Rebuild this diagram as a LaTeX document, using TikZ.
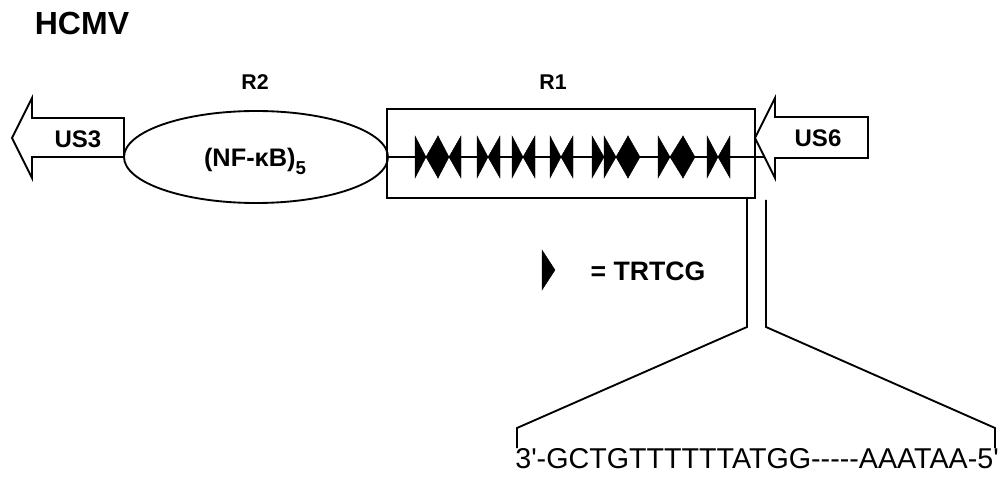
\documentclass[tikz,border=0pt]{standalone}
\usepackage{fontspec}
\setmainfont{Liberation Sans}
\usetikzlibrary{shapes.geometric}
\begin{document}
\begin{tikzpicture}[x=0.75pt,y=-0.75pt,line join=miter,
  ln/.style={line width=1.4pt},
  lbl/.style={font=\bfseries\fontsize{16}{18}\selectfont,inner sep=0pt,anchor=base},
  genetxt/.style={font=\bfseries\fontsize{18}{20}\selectfont,inner sep=0pt,anchor=base},
  geneshape/.style={draw,line width=1.4pt,fill=white},
  tri/.style={fill=black,draw=black,line width=0.3pt}]
\useasboundingbox (0,0) rectangle (1002,488);
% title
\node[font=\bfseries\fontsize{24}{28}\selectfont,inner sep=0pt,anchor=base] (hcmv) at (82,35) {HCMV};
% R2 ellipse and R1 box
\node[ellipse,draw,ln,minimum width=198pt,minimum height=69pt,inner sep=0pt] (r2) at (256,157) {};
\node[draw,ln,minimum width=276pt,minimum height=66.75pt,inner sep=0pt] (r1) at (571,153.5) {};
\node[lbl] (r2lab) at (255,90) {R2};
\node[lbl] (r1lab) at (553,90) {R1};
\node[font=\bfseries\fontsize{19}{21}\selectfont,inner sep=0pt,anchor=base] (nfkb) at (255,167) {(NF-κB)\raisebox{-0.3em}{\fontsize{14}{14}\selectfont 5}};
% axis line
\coordinate (axisR) at (775,157);
\draw[ln] (r2.east) -- (axisR);
% gene arrows
\draw[geneshape] (124,118) -- (32,118) -- (32,98) -- (12,138) -- (32,178) -- (32,157) -- (124,157) -- cycle;
\node[genetxt] (us3) at (78,148) {US3};
\draw[geneshape] (868,117) -- (775,117) -- (775,98) -- (755,138) -- (775,178) -- (775,158) -- (868,158) -- cycle;
\node[genetxt] (us6) at (818,147) {US6};
% TRTCG motifs: right-pointing
\foreach \a/\b in {415/426,438/449,477/488,512/523,550/561,592/604,604/616,628/640,658/670,683/695,707/718}
  \fill[tri] (\a,136) -- (\b,157) -- (\a,178) -- cycle;
% left-pointing
\foreach \a/\b in {426/438,449/461,488/500,523/535,561/573,616/628,670/683,718/730}
  \fill[tri] (\a,157) -- (\b,136) -- (\b,178) -- cycle;
% legend
\fill[tri] (542,250) -- (555,270) -- (542,290) -- cycle;
\coordinate (legtri) at (548,270);
\node[font=\bfseries\fontsize{20}{22}\selectfont,inner sep=0pt,anchor=base] (legtxt) at (648,280) {= TRTCG};
% zoom lines
\coordinate (zl0) at (747,198);
\coordinate (zl1) at (747,327);
\coordinate (zl2) at (517,428);
\coordinate (zl3) at (517,448);
\coordinate (zr0) at (766,200);
\coordinate (zr1) at (766,327);
\coordinate (zr2) at (995,428);
\coordinate (zr3) at (995,448);
\draw[ln] (zl0) -- (zl1) -- (zl2) -- (zl3);
\draw[ln] (zr0) -- (zr1) -- (zr2) -- (zr3);
% sequence
\node[font=\fontsize{21.5}{24}\selectfont,inner sep=0pt,anchor=base] (seq) at (757,468) {3\textquotesingle{-}GCTGTTTTTTATGG{-}{-}{-}{-}{-}AAATAA{-}5\textquotesingle};
\end{tikzpicture}
\end{document}
